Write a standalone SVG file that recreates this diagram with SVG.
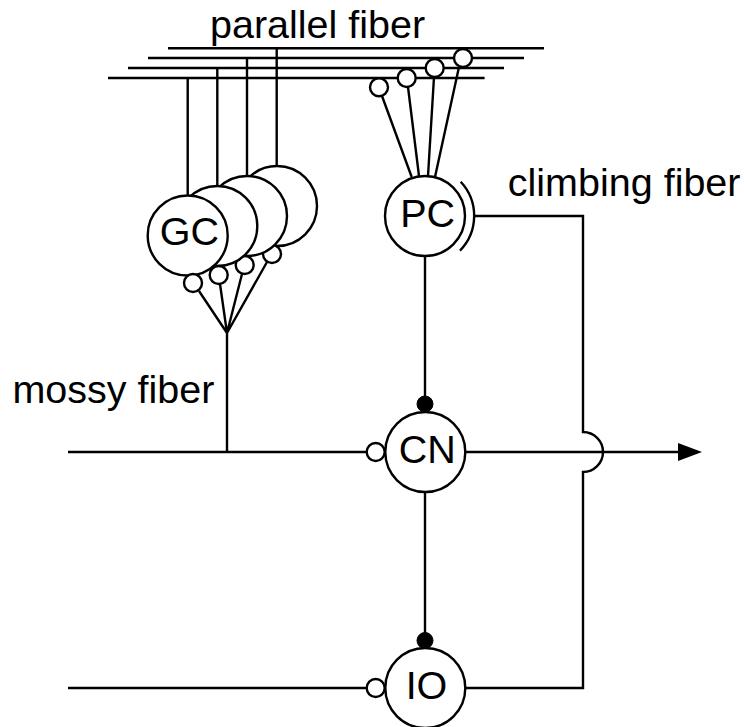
<svg xmlns="http://www.w3.org/2000/svg" width="744" height="727" viewBox="0 0 744 727">
<style>
.l{fill:none;stroke:#000;stroke-width:2.4}
.n{fill:#fff;stroke:#000;stroke-width:2.4}
.b{fill:#000;stroke:#000;stroke-width:1}
text{font-family:"Liberation Sans",Arial,sans-serif;font-size:39.5px;fill:#000}
.c{text-anchor:middle}
</style>
<rect width="744" height="727" fill="#fff"/>
<g id="connectors" class="l">
<path d="M168 48.3H544M148 58H524M128 68H504M108 78H484.6"/>
<path d="M187.7 78V196M217.3 68V186M247 58V176M276.7 48V166"/>
<path d="M199 291L227 333L220 284M227 333L242 274M227 333L267 262M227 333V452"/>
<path d="M382 96L411.7 177M408 87L419 176M434 77L428 176M459 67L435 177"/>
<path d="M425 256V404M425 492V640M68 452H367M465 452H680M68 688H367"/>
<path d="M475 216H583V432A20 20 0 0 1 583 472V688H465"/>
<path d="M460.7 181.7A50 50 0 0 1 460 250.7"/>
<path d="M678 443L702 452L678 461Z" fill="#000" stroke="none"/>
</g>
<g id="pf-label"><text x="210" y="37.5">parallel fiber</text></g>
<g id="cf-label"><text x="507.8" y="196">climbing fiber</text></g>
<g id="mf-label"><text x="12.4" y="403.3">mossy fiber</text></g>
<g id="gc4"><circle class="n" cx="277" cy="206" r="40"/><circle class="n" cx="272" cy="254" r="9"/></g>
<g id="gc3"><circle class="n" cx="247" cy="216" r="40"/><circle class="n" cx="244.7" cy="265" r="9"/></g>
<g id="gc2"><circle class="n" cx="217.3" cy="226" r="40"/><circle class="n" cx="218.7" cy="275" r="9"/></g>
<g id="gc1"><circle class="n" cx="187.7" cy="235.5" r="40"/><circle class="n" cx="193" cy="283" r="9"/><text class="c" x="189.3" y="245.3">GC</text></g>
<g id="pf-syn"><circle class="n" cx="379" cy="87.3" r="9"/><circle class="n" cx="406.7" cy="78" r="9"/><circle class="n" cx="434.7" cy="68" r="9"/><circle class="n" cx="463" cy="58" r="9"/></g>
<g id="pc"><circle class="n" cx="425" cy="216" r="40"/><text class="c" x="427.7" y="226.5">PC</text></g>
<g id="cn"><circle class="n" cx="425.3" cy="452" r="40"/><circle class="b" cx="425" cy="404" r="8"/><circle class="n" cx="375.7" cy="452" r="9"/><text class="c" x="427.2" y="462.5">CN</text></g>
<g id="io"><circle class="n" cx="425.3" cy="688" r="40"/><circle class="b" cx="425" cy="640.5" r="8"/><circle class="n" cx="375.7" cy="688" r="9"/><text class="c" x="426.5" y="698.5">IO</text></g>
</svg>
